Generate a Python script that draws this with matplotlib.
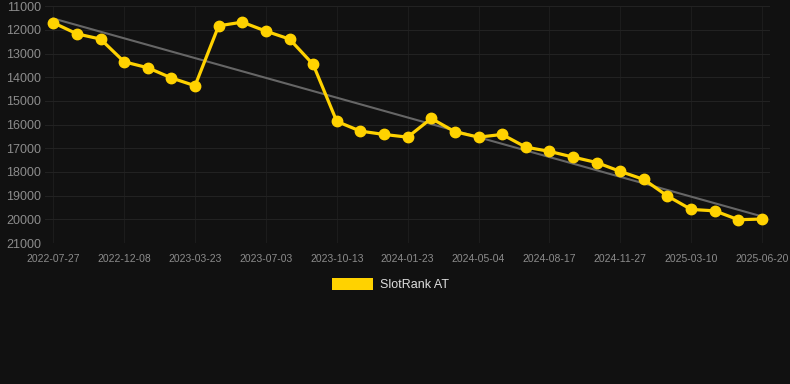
import numpy as np
from matplotlib import pyplot as plt
from matplotlib.patches import Patch

# rank values per sample (category axis, labels every 3rd sample)
ranks = [11700, 12170, 12390, 13350, 13600, 14030, 14360, 11830, 11675, 12055,
         12390, 13460, 15865, 16275, 16415, 16530, 15740, 16300, 16530, 16415,
         16950, 17130, 17370, 17600, 17975, 18315, 19015, 19580, 19640, 20015,
         19985]
tick_labels = ['2022-07-27', '2022-12-08', '2023-03-23', '2023-07-03', '2023-10-13',
               '2024-01-23', '2024-05-04', '2024-08-17', '2024-11-27', '2025-03-10',
               '2025-06-20']
y_ticks = [11000, 12000, 13000, 14000, 15000, 16000, 17000, 18000, 19000, 20000, 21000]

bg = '#111111'
gold = '#FFD200'

fig = plt.figure(figsize=(7.9, 3.84), dpi=100, facecolor=bg)
ax = fig.add_axes([0.057, 0.367, 0.918, 0.617], facecolor=bg)

x = np.arange(len(ranks))
slope, icpt = np.polyfit(x, ranks, 1)
ax.plot(x, slope * x + icpt, color='#666666', lw=1.5, zorder=2)
ax.plot(x, ranks, color=gold, lw=2.3, marker='o', ms=7.5, zorder=3)

ax.set_xlim(-0.35, len(ranks) - 1 + 0.35)
ax.set_ylim(21000, 11000)
ax.set_yticks(y_ticks)
ax.set_xticks(x[::3])
ax.set_xticklabels(tick_labels)

ax.grid(True, axis='y', color='#222222', lw=0.8)
ax.grid(True, axis='x', color='#1c1c1c', lw=0.8)
ax.set_axisbelow(True)
for s in ax.spines.values():
    s.set_visible(False)
ax.tick_params(axis='y', length=0, pad=3, labelsize=9, labelcolor='#8c8c8c')
ax.tick_params(axis='x', length=0, pad=8, labelsize=7.5, labelcolor='#8c8c8c')
for t in ax.get_xticklabels() + ax.get_yticklabels():
    t.set_family('Liberation Sans')

leg = fig.legend(handles=[Patch(facecolor=gold, label='SlotRank AT')],
                 loc='center', bbox_to_anchor=(0.494, 0.258), frameon=False,
                 handlelength=3.3, handleheight=1.0, handletextpad=0.5,
                 prop={'family': 'Liberation Sans', 'size': 9})
for t in leg.get_texts():
    t.set_color('#dddddd')

fig.savefig('out.png', dpi=100, facecolor=bg)
